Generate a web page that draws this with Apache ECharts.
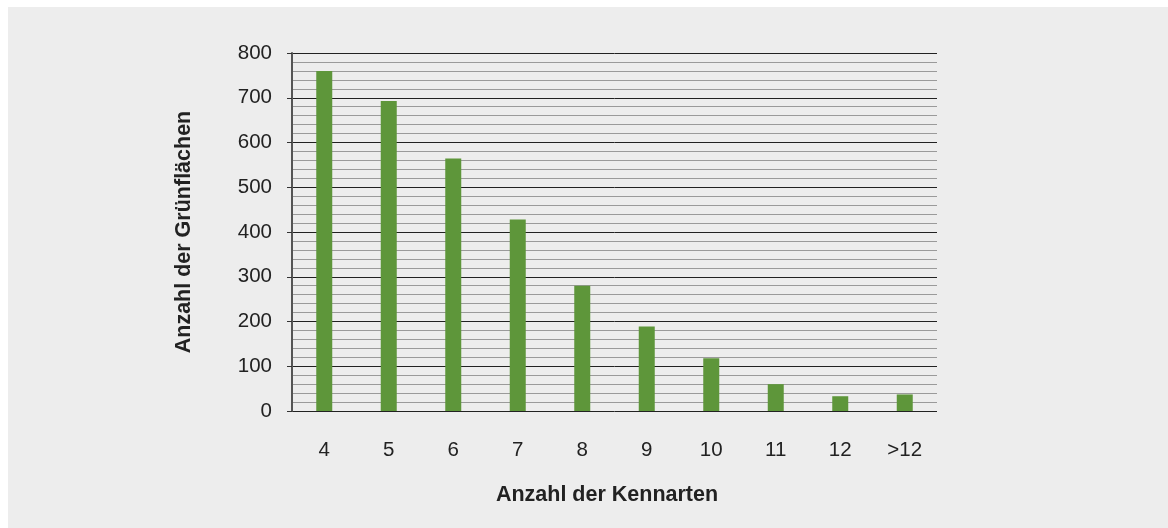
<!DOCTYPE html>
<html>
<head>
<meta charset="utf-8">
<script src="https://cdn.jsdelivr.net/npm/echarts@6/dist/echarts.min.js"></script>
<style>
  html, body { margin: 0; padding: 0; background: #ffffff; }
  #panel { position: absolute; left: 8px; top: 7px; width: 1160px; height: 521px; background: #ededed; }
  #chart { position: absolute; left: 0; top: 0; width: 1168px; height: 528px; }
</style>
</head>
<body>
<div id="panel"></div>
<div id="chart"></div>
<script>
const categories = ['4', '5', '6', '7', '8', '9', '10', '11', '12', '>12'];
const counts = [760, 693, 564, 428, 280, 189, 118, 60, 33, 37];
const yTicks = [0, 100, 200, 300, 400, 500, 600, 700, 800];

const chart = echarts.init(document.getElementById('chart'));

const font = '"Liberation Sans", Arial, Helvetica, sans-serif';

chart.setOption({
  backgroundColor: 'transparent',
  animation: false,
  textStyle: { fontFamily: font, color: '#222' },
  grid: { left: 292, right: 231, top: 53, bottom: 117 },
  xAxis: {
    type: 'category',
    data: categories,
    name: 'Anzahl der Kennarten',
    nameLocation: 'middle',
    nameGap: 73,
    nameTextStyle: { fontFamily: font, fontSize: 21.5, fontWeight: 'bold', color: '#222', padding: [0, 15, 0, 0] },
    axisLine: { show: false },
    axisTick: { show: false },
    axisLabel: { fontSize: 20.5, color: '#222', margin: 29 },
    splitLine: { show: false }
  },
  yAxis: {
    type: 'value',
    min: 0,
    max: 800,
    interval: 100,
    name: 'Anzahl der Grünflächen',
    nameLocation: 'middle',
    nameGap: 97,
    nameTextStyle: { fontFamily: font, fontSize: 21.5, fontWeight: 'bold', color: '#222' },
    axisLine: { show: true, lineStyle: { color: '#555', width: 2 } },
    axisTick: { show: true, length: 5, lineStyle: { color: '#333', width: 1 } },
    axisLabel: {
      fontSize: 20.5, color: '#222', margin: 20,
      formatter: v => yTicks.includes(v) ? String(v) : ''
    },
    splitLine: { show: true, lineStyle: { color: '#222', width: 1 } },
    minorTick: { show: false, splitNumber: 5 },
    minorSplitLine: { show: true, lineStyle: { color: '#9a9a9a', width: 1.2 } }
  },
  series: [{
    type: 'bar',
    data: counts,
    barWidth: 16,
    itemStyle: { color: '#5e963a' },
    z: 3
  }]
});
</script>
</body>
</html>
